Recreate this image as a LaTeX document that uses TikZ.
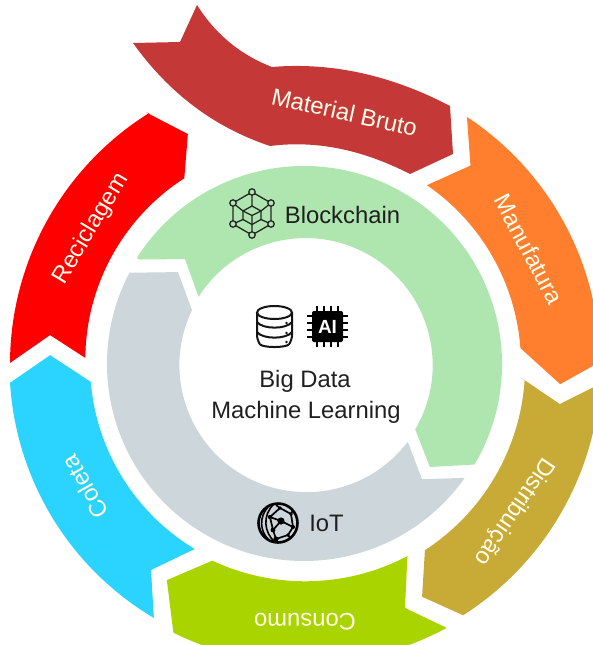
\documentclass[tikz,border=0pt]{standalone}
\usepackage{fontspec}
\setmainfont{Liberation Sans}
\tikzset{
  lbl/.style={font=\fontsize{23.8}{26}\selectfont,text=white!92!yellow,inner sep=0pt},
  blk/.style={font=\fontsize{23.8}{26}\selectfont,text=black!88,inner sep=0pt,align=center},
  ico/.style={line width=1.3pt,draw=black!85},
  dbline/.style={line width=2pt,draw=black!92},
  pin/.style={line width=2.6pt,draw=black}
}
\definecolor{cBrick}{HTML}{C43838}
\definecolor{cOrange}{HTML}{FF7F2E}
\definecolor{cGold}{HTML}{C8AA37}
\definecolor{cLime}{HTML}{AAD400}
\definecolor{cCyan}{HTML}{2BD4FF}
\definecolor{cGreen}{HTML}{AFE6B0}
\definecolor{cGrey}{HTML}{CDD6DA}
\begin{document}
\begin{tikzpicture}[x=1pt,y=-1pt]
\useasboundingbox (0,0) rectangle (593,645);
\clip (0,0) rectangle (593,645);
% Material Bruto ribbon
\fill[cBrick] (197,5) .. controls (216,35) and (241,55) .. (272,67)
  .. controls (331,62) and (391,75) .. (450,106) -- (453,154) -- (410,174)
  .. controls (363,150) and (317,140) .. (270,146)
  .. controls (213,127) and (168,92) .. (133,43) -- (180,42) -- cycle;
\begin{scope}[shift={(304,364)},y=1pt]
% Manufatura
\fill[cOrange] (56.6:296) arc (56.6:0.4:296) -- (-4.5:257) -- (4.2:217) arc (4.2:55.5:217) -- (50:259) -- cycle;
% Distribuicao
\fill[cGold] (-3.7:218) -- (-8.9:259) -- (-3.8:297) arc (-3.8:-57.5:298) -- (-63.1:261) -- (-57:222) arc (-57:-3.7:220) -- cycle;
% Consumo
\fill[cLime] (297.7:222) -- (292.5:264) -- (298.4:300) arc (298.4:243.6:297) -- (237.6:256) -- (245:217) arc (245:297.7:220) -- cycle;
% Coleta
\fill[cCyan] (178:254) -- (184.8:214) arc (184.8:239:216) -- (233.4:256.6) -- (239.4:295) arc (239.4:183.5:294) -- cycle;
% Reciclagem
\fill[red] (122.1:297) -- (116.8:257.6) -- (122.8:221) arc (122.8:179.5:216) -- (173.5:255.6) -- (179.8:294) arc (179.8:122.1:296) -- cycle;
% Blockchain ring
\fill[cGreen] (147.6:195) -- (138.6:158.7) -- (147.5:125) arc (147.5:-30.4:127) -- (-39.3:162.7) -- (-30.5:198) arc (-30.5:147.6:198) -- cycle;
% IoT ring
\fill[cGrey] (143.9:156) -- (154.3:124.3) arc (154.3:322.9:127) -- (315.7:165) -- (324.7:197) arc (324.7:152.4:197) -- cycle;
\end{scope}
% labels
\node[lbl,rotate=-12.5] (material) at (344.5,112) {Material Bruto};
\node[lbl,rotate=-62] (manuf) at (529,249) {Manufatura};
\node[lbl,rotate=-124] (distr) at (514,511) {Distribuição};
\node[lbl,rotate=180] (consumo) at (305,622) {Consumo};
\node[lbl,rotate=119.5] (coleta) at (85,487) {Coleta};
\node[lbl,rotate=59] (recic) at (91,229) {Reciclagem};
\node[blk] (blockchain) at (342.5,214.5) {Blockchain};
\node[blk] (iot) at (326.5,523) {IoT};
\node[blk] (bigdata) at (305,381) {Big Data};
\node[blk] (ml) at (306,412) {Machine Learning};
% cube icon
\begin{scope}[shift={(252,213.5)}]
\draw[ico] (0,-21.5) -- (19,-10.5) -- (19,10.5) -- (0,21.5) -- (-19,10.5) -- (-19,-10.5) -- cycle;
\draw[ico] (0,-7.5) -- (9,-2.5) -- (9,6) -- (0,11) -- (-9,6) -- (-9,-2.5) -- cycle;
\draw[ico] (-9,-2.5) -- (0,2) -- (9,-2.5) (0,2) -- (0,11);
\draw[ico] (0,-21.5) -- (0,-7.5) (19,-10.5) -- (9,-2.5) (19,10.5) -- (9,6) (0,21.5) -- (0,11) (-19,10.5) -- (-9,6) (-19,-10.5) -- (-9,-2.5);
\foreach \p in {(0,-21.5),(19,-10.5),(19,10.5),(0,21.5),(-19,10.5),(-19,-10.5)}
  \filldraw[ico,fill=cGreen] \p circle (3.2);
\end{scope}
% database icon
\begin{scope}[shift={(274.5,326)}]
\draw[dbline,rounded corners=5pt] (-17.5,-13) -- (-17.5,14) .. controls (-12,22) and (12,22) .. (17.5,14) -- (17.5,-13);
\draw[dbline] (0,-13.5) ellipse (17.5 and 6.5);
\draw[dbline] (-17.5,-4) .. controls (-12,3.5) and (12,3.5) .. (17.5,-4);
\draw[dbline] (-17.5,6) .. controls (-12,13.5) and (12,13.5) .. (17.5,6);
\foreach \p in {(12,-3),(12,7),(12,16)} \fill[black!90] \p circle (1.3);
\end{scope}
% AI chip icon
\begin{scope}[shift={(327.5,326.5)}]
\foreach \t in {-10.5,-3.5,3.5,10.5}{
  \draw[pin] (\t,-20.5) -- (\t,20.5);
  \draw[pin] (-20.5,\t) -- (20.5,\t);
}
\fill[black,rounded corners=2pt] (-15.5,-15.5) rectangle (15.5,15.5);
\node[font=\bfseries\fontsize{19}{20}\selectfont,text=white,inner sep=0pt] (ailabel) at (0,0) {AI};
\end{scope}
% globe icon
\begin{scope}[shift={(278,523)}]
\draw[line width=2.6pt,draw=black] (0,0) circle (19.5);
\draw[line width=1.6pt,draw=black] (-4,-19) .. controls (-16,-8) and (-14,10) .. (-3,19);
\draw[line width=1.6pt,draw=black] (-10,-16) .. controls (-19,-6) and (-18,8) .. (-10,16);
\draw[line width=1.7pt,draw=black] (-8,-6) -- (2,-15) -- (13,-9) -- (15,4) -- (3,-2) -- cycle;
\draw[line width=1.7pt,draw=black] (3,-2) -- (-5,7) -- (-2,16) -- (10,12) -- (15,4);
\draw[line width=1.7pt,draw=black] (-8,-6) -- (-5,7) (-2,-18) -- (2,-15) (13,-9) -- (15,-13) (10,12) -- (12,15);
\foreach \p/\r in {(3,-2)/3.6,(-2,16)/2.6,(-8,-6)/2.2,(-5,7)/2.4,(15,4)/2,(2,-15)/1.8,(13,-9)/1.8,(10,12)/1.8}
  \fill[black] \p circle (\r);
\end{scope}
\end{tikzpicture}
\end{document}
